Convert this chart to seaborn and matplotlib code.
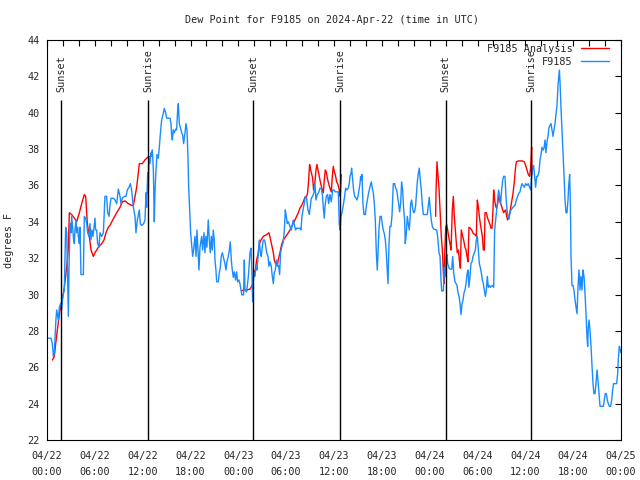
import pandas as pd
import seaborn as sns
import matplotlib
matplotlib.use("Agg")
import matplotlib.pyplot as plt
import matplotlib.dates as mdates
from matplotlib.lines import Line2D

# hours after 2024-04-22 00:00 UTC, dew point in degrees F
# station observations (F9185)
obs_hours = [
    0.17, 0.50, 0.67, 0.80, 0.92, 1.09, 1.21, 1.42, 1.55, 1.71,
    1.84, 1.97, 2.17, 2.34, 2.47, 2.59, 2.68, 2.76, 2.89, 3.01,
    3.09, 3.22, 3.34, 3.43, 3.51, 3.64, 3.72, 3.85, 3.93, 4.06,
    4.14, 4.26, 4.56, 4.68, 4.85, 4.98, 5.10, 5.27, 5.39, 5.52,
    5.64, 5.77, 5.89, 6.02, 6.10, 6.23, 6.35, 6.52, 6.65, 6.86,
    7.07, 7.27, 7.48, 7.61, 7.78, 7.90, 8.03, 8.32, 8.53, 8.74,
    8.95, 9.16, 9.28, 9.45, 9.70, 9.91, 10.07, 10.28, 10.45, 10.62,
    10.83, 11.04, 11.16, 11.33, 11.58, 11.70, 11.87, 12.12,
    12.29, 12.42, 12.50, 12.63, 12.71, 12.79, 12.92, 13.04, 13.13, 13.21,
    13.34, 13.46, 13.55, 13.67, 13.80, 13.96, 14.09, 14.21, 14.38, 14.59,
    14.71, 14.88, 15.01, 15.43, 15.55, 15.63, 15.72, 15.84, 15.97, 16.14,
    16.26, 16.39, 16.47, 16.60, 16.72, 16.89, 17.01, 17.14, 17.31, 17.43,
    17.56, 17.68, 17.77, 17.89, 18.02, 18.14, 18.27, 18.39, 18.56, 18.69,
    18.81, 18.94, 19.06, 19.19, 19.40, 19.52, 19.69, 19.81, 19.94, 20.06,
    20.23, 20.36, 20.48, 20.61, 20.73, 20.86, 20.98, 21.07, 21.19, 21.28,
    21.49, 21.61, 21.74, 21.86, 21.99, 22.15, 22.32, 22.45, 22.57, 22.74,
    22.87, 22.99, 23.12, 23.24, 23.37, 23.49, 23.66, 23.79, 23.91, 24.08,
    24.20, 24.33, 24.45, 24.66, 24.75, 24.83, 25.04, 25.25,
    25.46, 25.59, 25.71, 25.79, 25.92, 26.09, 26.21, 26.34, 26.46, 26.63,
    26.76, 26.88, 27.01, 27.13, 27.30, 27.42, 27.55, 27.72, 27.84, 27.97,
    28.13, 28.26, 28.39, 28.51, 28.64, 28.80, 28.93, 29.05, 29.18, 29.30,
    29.47, 29.64, 29.77, 29.89, 30.02, 30.14, 30.27, 30.48, 30.64, 30.77,
    30.89, 31.02, 31.19, 31.31, 31.52, 31.73, 31.86, 31.98, 32.15, 32.27,
    32.40, 32.57, 32.73, 32.90, 33.03, 33.15, 33.32, 33.49, 33.61, 33.74,
    33.90, 34.07, 34.24, 34.41, 34.57, 34.66, 34.78, 34.87, 35.03, 35.20,
    35.33, 35.49, 35.66, 35.83, 35.99, 36.16, 36.41, 36.54, 36.66, 36.75,
    36.87, 37.00, 37.16, 37.33, 37.46, 37.62, 37.79, 37.92,
    38.00, 38.13, 38.21, 38.34, 38.46, 38.59, 38.76, 38.88, 39.01, 39.13,
    39.26, 39.34, 39.43, 39.51, 39.63, 39.76, 39.93, 40.05, 40.18, 40.30,
    40.43, 40.55, 40.68, 40.80, 40.93, 41.06, 41.18, 41.31, 41.43, 41.52,
    41.64, 41.77, 41.93, 42.06, 42.18, 42.31, 42.44, 42.56, 42.69, 42.77,
    42.90, 43.02, 43.15, 43.27, 43.44, 43.61, 43.73, 43.86, 43.98, 44.11,
    44.23, 44.36, 44.48, 44.61, 44.73, 44.86, 44.94, 45.07, 45.19, 45.32,
    45.44, 45.53, 45.61, 45.74, 45.86, 45.99, 46.11, 46.24, 46.36, 46.45,
    46.57, 46.70, 46.82, 46.95, 47.07, 47.20, 47.41, 47.70, 47.83, 47.95,
    48.08, 48.20, 48.33, 48.50,
    48.88, 49.00, 49.17, 49.30, 49.42, 49.51, 49.72, 49.84, 49.92, 50.05,
    50.17, 50.26, 50.43, 50.59, 50.76, 50.89, 51.01, 51.18, 51.30, 51.43,
    51.55, 51.68, 51.81, 51.93, 52.06, 52.18, 52.31, 52.43, 52.56, 52.68,
    52.81, 52.93, 53.06, 53.18, 53.31, 53.44, 53.60, 53.73, 53.85, 53.98,
    54.10, 54.23, 54.35, 54.48, 54.61, 54.73, 54.86, 54.98, 55.11, 55.23,
    55.36, 55.48, 55.61, 55.73, 55.86, 56.03, 56.15, 56.28, 56.40, 56.53,
    56.65, 56.78, 56.90, 57.03, 57.16, 57.28, 57.45, 57.57, 57.70, 57.82,
    57.95, 58.08, 58.20, 58.37, 58.53, 58.70, 58.87, 59.04, 59.16, 59.33,
    59.45, 59.58, 59.71, 59.87, 60.04, 60.21, 60.37, 60.54, 60.67, 60.79,
    60.92, 61.04, 61.17, 61.29, 61.42, 61.54,
    61.72, 61.84, 61.97, 62.09, 62.22, 62.34, 62.47, 62.59, 62.72, 62.84,
    62.97, 63.10, 63.22, 63.35, 63.47, 63.60, 63.72, 63.85, 63.97, 64.10,
    64.18, 64.27, 64.35, 64.47, 64.60, 64.73, 64.85, 64.98, 65.10, 65.23,
    65.35, 65.44, 65.56, 65.65, 65.73, 65.85, 65.98, 66.10, 66.23, 66.36,
    66.48, 66.61, 66.73, 66.86, 66.98, 67.11, 67.23, 67.36, 67.48, 67.61,
    67.73, 67.82, 67.90, 67.99, 68.11, 68.24, 68.36, 68.49, 68.61, 68.74,
    68.86, 68.99, 69.11, 69.24, 69.37, 69.57, 69.78, 69.91, 70.03, 70.16,
    70.28, 70.41, 70.54, 70.70, 70.83, 70.95, 71.08, 71.25, 71.46, 71.58,
    71.66, 71.79, 71.92, 71.98,
]
obs_dewpt = [
    27.6, 27.6, 27.3, 26.6, 26.8, 28.4, 29.15, 28.6, 29.3, 29.5,
    29.15, 29.9, 30.25, 33.7, 33.4, 30.6, 28.8, 31.5, 33.9, 33.4,
    34.3, 33.7, 33.0, 32.8, 33.55, 34.1, 33.4, 33.7, 33.2, 32.8,
    33.7, 31.1, 31.1, 34.3, 34.2, 33.9, 33.4, 33.2, 33.9, 33.0,
    33.55, 33.2, 33.7, 34.2, 33.55, 33.55, 32.8, 32.6, 33.4, 33.2,
    33.4, 35.4, 35.4, 34.5, 34.3, 34.9, 35.3, 35.3, 35.2, 35.0,
    35.8, 35.4, 35.0, 35.3, 35.4, 35.4, 35.75, 35.9, 36.1, 35.75,
    34.8, 34.3, 33.4, 34.1, 34.65, 33.9, 33.8, 33.9,
    34.1, 35.6, 34.8, 36.7, 35.6, 37.5, 37.2, 37.8, 37.6, 37.95,
    36.85, 34.0, 35.75, 36.85, 37.7, 37.5, 38.1, 38.8, 39.6, 39.97,
    40.24, 40.0, 39.7, 39.7, 39.4, 38.8, 38.5, 39.05, 38.9, 39.1,
    39.05, 40.15, 40.5, 39.4, 39.2, 38.9, 38.8, 38.3, 38.9, 39.4,
    39.05, 37.6, 35.9, 34.65, 33.4, 32.8, 32.1, 32.45, 33.2, 32.1,
    33.55, 32.45, 31.35, 32.6, 33.2, 32.45, 33.4, 32.3, 33.2, 32.6,
    34.1, 33.0, 32.3, 33.2, 32.45, 33.55, 33.0, 31.9, 31.35, 30.7,
    30.7, 31.2, 31.5, 32.1, 32.3, 32.0, 31.7, 31.35, 31.8, 32.1,
    32.45, 32.9, 31.9, 31.35, 30.95, 31.25, 30.8, 31.25, 30.7, 30.8,
    30.6, 30.25, 29.98, 29.98, 31.9, 30.25, 30.15, 30.95,
    32.3, 32.55, 31.1, 29.6, 31.2, 31.0, 31.55, 31.35, 32.0, 33.0,
    32.3, 32.1, 32.65, 33.0, 33.0, 32.7, 32.3, 32.1, 31.55, 31.8,
    31.55, 31.0, 30.6, 31.2, 31.35, 31.9, 31.55, 31.6, 31.1, 32.3,
    32.65, 32.9, 33.55, 34.65, 34.3, 33.9, 34.0, 33.75, 33.55, 33.85,
    34.1, 33.85, 33.55, 33.65, 33.65, 33.65, 33.55, 34.3, 34.75, 35.0,
    35.4, 35.3, 34.65, 34.4, 34.85, 35.3, 35.4, 35.6, 36.1, 35.2,
    35.5, 35.6, 35.85, 35.85, 35.4, 34.75, 34.2, 34.85, 35.4, 35.5,
    35.0, 35.5, 35.1, 35.75, 35.75, 35.65, 35.65, 35.65, 33.9, 33.55,
    34.3, 34.5, 34.9, 35.4, 35.85, 35.75, 35.85, 36.1,
    36.5, 36.65, 36.95, 36.3, 35.75, 35.4, 35.3, 35.2, 35.4, 35.75,
    36.1, 36.5, 36.3, 36.6, 35.0, 34.4, 34.4, 34.85, 35.2, 35.5,
    35.75, 36.0, 36.2, 35.85, 35.6, 35.0, 34.1, 32.3, 31.35, 32.3,
    33.55, 34.3, 34.3, 33.85, 33.55, 33.35, 33.0, 32.3, 31.25, 30.6,
    32.8, 33.75, 33.75, 34.3, 36.1, 36.1, 35.85, 35.75, 35.4, 35.0,
    34.55, 35.0, 36.2, 35.75, 34.75, 34.1, 32.8, 33.35, 34.3, 33.9,
    33.55, 34.1, 35.0, 35.2, 34.75, 34.5, 34.55, 34.9, 35.65, 36.2,
    36.65, 36.95, 36.3, 35.75, 35.0, 34.4, 34.4, 34.4, 34.9, 35.35,
    34.65, 34.1, 33.75, 33.6,
    33.55, 33.2, 32.3, 32.1, 30.8, 30.2, 30.2, 31.5, 31.0, 32.1,
    32.2, 31.7, 31.45, 31.4, 31.4, 32.1, 31.2, 30.7, 30.6, 30.5,
    30.1, 29.9, 29.5, 28.9, 29.5, 29.7, 30.1, 30.25, 30.6, 31.1,
    31.35, 30.4, 31.0, 31.7, 31.8, 32.1, 32.3, 32.45, 33.0, 33.2,
    32.45, 31.7, 31.5, 31.2, 30.8, 30.6, 30.25, 29.9, 30.25, 31.0,
    30.4, 30.5, 30.4, 30.45, 30.5, 30.4, 33.55, 34.1, 34.65, 35.2,
    35.75, 35.4, 35.0, 35.75, 36.3, 36.5, 36.5, 35.4, 34.65, 34.3,
    34.15, 34.5, 34.65, 34.75, 34.85, 34.9, 35.2, 35.4, 35.55, 35.65,
    35.9, 36.1, 36.0, 35.9, 36.1, 36.0, 36.1, 35.9, 35.75, 36.5,
    36.95, 37.1, 36.5, 35.9, 36.5, 36.5,
    36.75, 37.4, 37.7, 38.1, 37.95, 38.05, 38.5, 37.8, 38.4, 38.7,
    39.2, 39.3, 39.4, 39.05, 38.7, 39.05, 39.4, 39.95, 40.4, 41.5,
    41.9, 42.35, 41.7, 40.3, 39.05, 37.85, 36.6, 35.2, 34.5, 34.5,
    35.2, 36.0, 36.6, 35.0, 32.1, 30.5, 30.5, 30.25, 29.7, 29.3,
    28.95, 30.45, 31.35, 30.25, 31.0, 30.25, 31.35, 31.0, 30.1, 28.95,
    27.7, 27.15, 28.2, 28.6, 28.05, 27.15, 26.1, 25.1, 24.55, 24.55,
    25.1, 25.85, 25.3, 24.55, 23.85, 23.85, 23.85, 24.2, 24.55, 24.55,
    24.2, 24.0, 23.85, 23.85, 24.2, 24.75, 25.1, 25.1, 25.1, 25.65,
    26.4, 27.15, 26.95, 26.8,
]

# analysis values (F9185 Analysis), three overnight stretches
ana_hours = [
    0.67, 0.92, 1.09, 1.34, 1.63, 1.92, 2.17, 2.34, 2.51, 2.68,
    2.80, 3.09, 3.43, 3.72, 4.06, 4.35, 4.68, 4.85, 5.06, 5.31,
    5.52, 5.81, 6.02, 6.44, 6.86, 7.15, 7.40, 7.69, 7.90, 8.24,
    8.74, 9.16, 9.45, 9.78, 10.20, 10.62, 10.83, 11.04, 11.25, 11.58,
    11.96, 12.29, 12.62, 13.04,
    24.40, 24.66, 25.04, 25.46, 25.67, 25.84, 25.96, 26.13, 26.30, 26.50,
    26.63, 26.84, 27.13, 27.55, 27.84, 28.05, 28.22, 28.39, 28.51, 28.68,
    28.89, 29.01, 29.22, 29.43, 29.64, 29.97, 30.27, 30.48, 30.69, 30.89,
    31.10, 31.31, 31.52, 31.73, 31.94, 32.15, 32.36, 32.57, 32.69, 32.82,
    32.94, 33.07, 33.19, 33.32, 33.44, 33.61, 33.74, 33.86, 33.99, 34.11,
    34.24, 34.36, 34.53, 34.66, 34.78, 34.91, 35.03, 35.16, 35.33, 35.49,
    35.66, 35.79, 35.91, 36.04, 36.16, 36.33, 36.50, 36.66, 36.79, 36.91,
    48.75, 48.80, 48.92, 49.05, 49.17, 49.34, 49.46, 49.59, 49.72, 49.80,
    49.88, 50.01, 50.13, 50.26, 50.38, 50.55, 50.68, 50.84, 50.97, 51.09,
    51.22, 51.35, 51.47, 51.60, 51.72, 51.85, 51.97, 52.14, 52.26, 52.43,
    52.56, 52.68, 52.81, 52.93, 53.10, 53.27, 53.48, 53.69, 53.85, 53.98,
    54.10, 54.23, 54.35, 54.48, 54.61, 54.73, 54.86, 54.94, 55.11, 55.27,
    55.44, 55.57, 55.69, 55.82, 55.94, 56.03, 56.15, 56.28, 56.40, 56.53,
    56.65, 56.78, 56.90, 57.03, 57.16, 57.28, 57.41, 57.53, 57.66, 57.78,
    57.95, 58.12, 58.28, 58.45, 58.62, 58.74, 58.87, 59.12, 59.37, 59.62,
    59.87, 60.04, 60.21, 60.37, 60.54, 60.67, 60.79, 60.83,
]
ana_dewpt = [
    26.4, 26.6, 27.3, 28.2, 29.15, 29.7, 30.4, 31.0, 31.7, 32.6,
    34.5, 34.4, 34.2, 34.0, 34.5, 35.0, 35.5, 35.4, 33.9, 33.2,
    32.45, 32.1, 32.3, 32.6, 32.8, 33.0, 33.4, 33.7, 33.8, 34.1,
    34.5, 34.8, 35.1, 35.15, 35.0, 34.9, 34.9, 35.4, 35.9, 37.2,
    37.2, 37.4, 37.55, 37.6,
    30.2, 30.25, 30.25, 30.3, 30.45, 30.6, 31.2, 31.35, 31.9, 32.3,
    32.8, 33.0, 33.2, 33.3, 33.4, 33.0, 32.65, 32.3, 31.9, 31.7,
    31.6, 31.9, 32.3, 32.75, 33.0, 33.2, 33.4, 33.55, 33.75, 33.9,
    34.1, 34.3, 34.5, 34.75, 34.9, 35.1, 35.35, 35.4, 35.6, 36.3,
    37.15, 36.85, 36.65, 36.4, 35.75, 36.2, 36.85, 37.15, 36.85, 36.6,
    36.3, 36.05, 35.75, 35.6, 36.3, 36.85, 36.75, 36.4, 36.1, 35.85,
    35.65, 36.5, 37.05, 36.75, 36.6, 36.2, 36.05, 35.75, 35.4, 36.6,
    34.3, 35.75, 37.3, 36.5, 35.85, 34.3, 33.2, 32.45, 31.2, 30.6,
    32.1, 33.7, 33.85, 33.55, 33.2, 32.8, 32.45, 34.65, 35.4, 34.3,
    33.55, 32.8, 32.3, 32.45, 31.9, 31.45, 33.55, 33.2, 33.0, 32.6,
    32.45, 32.1, 31.8, 33.7, 33.65, 33.55, 33.35, 33.3, 33.2, 35.2,
    34.85, 34.3, 33.9, 33.55, 33.2, 32.45, 32.45, 34.5, 34.5, 34.2,
    34.0, 33.85, 33.65, 33.65, 34.65, 35.75, 35.2, 34.85, 34.75, 35.0,
    35.4, 35.2, 35.0, 34.85, 34.65, 34.5, 34.6, 34.65, 34.3, 34.1,
    34.3, 34.65, 35.1, 35.55, 36.2, 36.85, 37.3, 37.35, 37.35, 37.35,
    37.3, 37.1, 36.85, 36.6, 36.5, 37.0, 38.1, 36.6,
]

sun_hours = [1.76, 12.71, 25.88, 36.79, 50.01, 60.75]
sun_labels = ["Sunset", "Sunrise", "Sunset", "Sunrise", "Sunset", "Sunrise"]

start = pd.Timestamp("2024-04-22 00:00")


def make_frame(hours, vals, name):
    d = pd.DataFrame({"hour": hours, "dewpt": vals})
    d["time"] = start + pd.to_timedelta(d["hour"], unit="h")
    # a gap of more than 3 h means missing data -> new line piece
    d["piece"] = name + (d["hour"].diff() > 3).cumsum().astype(str)
    d["series"] = name
    return d


df = pd.concat([make_frame(ana_hours, ana_dewpt, "F9185 Analysis"),
                make_frame(obs_hours, obs_dewpt, "F9185")],
               ignore_index=True)

colors = {"F9185 Analysis": "#ff0000", "F9185": "#1a8cff"}

sns.set_style("white")
plt.rcParams["font.family"] = ["DejaVu Sans Mono", "DejaVu Sans"]
plt.rcParams["font.size"] = 7.3

fig = plt.figure(figsize=(6.4, 4.8), dpi=100)
ax = fig.add_axes([47 / 640, 40 / 480, 574 / 640, 400 / 480])

sns.lineplot(data=df, x="time", y="dewpt", hue="series", units="piece",
             estimator=None, sort=False, palette=colors,
             hue_order=["F9185 Analysis", "F9185"], legend=False,
             linewidth=1.0, ax=ax)

# sunrise / sunset markers
sun_times = [start + pd.Timedelta(hours=h) for h in sun_hours]
ax.vlines(sun_times, 22, 40.7, color="black", linewidth=1.0)
for t, lab in zip(sun_times, sun_labels):
    ax.text(t, 41.14, lab, rotation=90, ha="center", va="bottom", fontsize=7.3)

ax.set_xlim(start, start + pd.Timedelta(hours=72))
ax.set_ylim(22, 44)
ax.set_yticks(range(22, 45, 2))
ax.xaxis.set_major_locator(mdates.HourLocator(byhour=[0, 6, 12, 18]))
ax.xaxis.set_minor_locator(mdates.HourLocator(interval=2))
ax.xaxis.set_major_formatter(mdates.DateFormatter("%m/%d\n%H:%M"))

ax.tick_params(which="both", direction="in", top=True, right=True,
               length=4, width=0.8, color="black", labelsize=7.3)
ax.tick_params(axis="x", pad=8)
ax.tick_params(axis="y", pad=5.5)
for lbl in ax.get_xticklabels():
    lbl.set_linespacing(1.7)

for s in ax.spines.values():
    s.set_color("black")
    s.set_linewidth(0.8)

ax.set_xlabel("")
ax.set_ylabel("degrees F", fontsize=7.3)
ax.yaxis.set_label_coords(-0.058, 0.5)

fig.text(0.518, 1 - 20 / 480, "Dew Point for F9185 on 2024-Apr-22 (time in UTC)",
         ha="center", va="center", fontsize=7.3)

handles = [Line2D([], [], color=colors["F9185 Analysis"], linewidth=1.0),
           Line2D([], [], color=colors["F9185"], linewidth=1.0)]
ax.legend(handles, ["F9185 Analysis", "F9185"], loc="upper right",
          bbox_to_anchor=(609 / 640, 1 - 44 / 480), bbox_transform=fig.transFigure,
          frameon=False, markerfirst=False, handlelength=2.8, handletextpad=0.8,
          labelspacing=0.3, borderpad=0, borderaxespad=0, fontsize=7.3)

fig.savefig("out.png", dpi=100)
